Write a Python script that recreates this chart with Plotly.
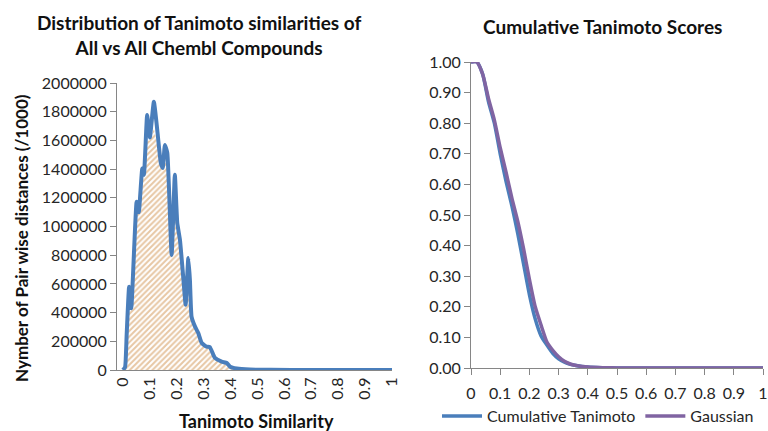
import plotly.graph_objects as go

# ---- Left chart data: distribution of Tanimoto similarities ----
sim_x = [0.000, 0.008, 0.014, 0.023, 0.031, 0.051, 0.059, 0.072, 0.078, 0.090,
         0.100, 0.115, 0.125, 0.141, 0.148, 0.156, 0.165, 0.181, 0.193, 0.202,
         0.212, 0.224, 0.233, 0.243, 0.249, 0.255, 0.268, 0.280, 0.293, 0.311,
         0.323, 0.342, 0.367, 0.386, 0.398, 0.423, 0.472, 0.550, 0.700, 0.850, 1.000]
pair_counts = [0, 20000, 250000, 580000, 430000, 1173000, 1100000, 1405000, 1360000, 1777000,
               1620000, 1870000, 1720000, 1440000, 1407000, 1568000, 1512000, 800000, 1360000, 1024000,
               906000, 650000, 455000, 780000, 627000, 372000, 302000, 258000, 188000, 162000,
               160000, 84000, 58000, 49000, 23000, 10000, 3000, 1000, 0, 0, 0]
area_counts = [0, 0, 200000, 480000, 430000, 1100000, 1100000, 1350000, 1360000, 1600000,
               1600000, 1680000, 1600000, 1420000, 1400000, 1480000, 1450000, 1100000, 1150000, 1000000,
               880000, 650000, 550000, 560000, 500000, 380000, 300000, 255000, 185000, 160000,
               150000, 84000, 58000, 45000, 23000, 10000, 3000, 1000, 0, 0, 0]
left_ticks = [0, 0.1, 0.2, 0.3, 0.4, 0.5, 0.6, 0.7, 0.8, 0.9, 1]
left_tick_text = ["0", "0.1", "0.2", "0.3", "0.4", "0.5", "0.6", "0.7", "0.8", "0.9", "1"]
left_y_ticks = [0, 200000, 400000, 600000, 800000, 1000000, 1200000, 1400000, 1600000, 1800000, 2000000]

# ---- Right chart data: cumulative scores ----
cum_x = [0, 0.02, 0.04, 0.06, 0.08, 0.10, 0.12, 0.14, 0.16, 0.18, 0.20, 0.22, 0.24,
         0.26, 0.28, 0.30, 0.32, 0.34, 0.36, 0.38, 0.40, 0.45, 0.50, 0.60, 0.70, 0.80, 0.90, 1.0]
cum_tanimoto = [1.00, 1.00, 0.96, 0.87, 0.80, 0.70, 0.61, 0.53, 0.44, 0.34, 0.24, 0.16, 0.105,
                0.075, 0.048, 0.030, 0.019, 0.012, 0.008, 0.005, 0.003, 0.001, 0, 0, 0, 0, 0, 0]
gaussian = [1.00, 1.00, 0.96, 0.88, 0.81, 0.72, 0.64, 0.555, 0.48, 0.39, 0.29, 0.20, 0.14,
            0.085, 0.058, 0.037, 0.022, 0.013, 0.008, 0.005, 0.003, 0.001, 0, 0, 0, 0, 0, 0]
right_ticks = [0, 0.1, 0.2, 0.3, 0.4, 0.5, 0.6, 0.7, 0.8, 0.9, 1]
right_tick_text = ["0", "0.1", "0.2", "0.3", "0.4", "0.5", "0.6", "0.7", "0.8", "0.9", "1"]
right_y_ticks = [0, 0.1, 0.2, 0.3, 0.4, 0.5, 0.6, 0.7, 0.8, 0.9, 1.0]

BLUE = "#4a7ebb"
PURPLE = "#8064a2"
AXIS = "#868686"
FONT = "Lato"
W, H = 768, 431

def px_x(p):
    return p / W

def px_y(p):
    return 1 - p / H

fig = go.Figure()

fig.add_trace(go.Scatter(
    x=sim_x, y=area_counts, mode="none", fill="tozeroy",
    fillpattern=dict(shape="/", fgcolor="#cf8f4a", bgcolor="#ffffff", size=4, solidity=0.5),
    showlegend=False, xaxis="x", yaxis="y", hoverinfo="skip"))
fig.add_trace(go.Scatter(
    x=sim_x, y=pair_counts, mode="lines", line=dict(color=BLUE, width=4, shape="spline", smoothing=0.4),
    showlegend=False, xaxis="x", yaxis="y"))

fig.add_trace(go.Scatter(
    x=cum_x, y=cum_tanimoto, mode="lines", name="Cumulative Tanimoto",
    line=dict(color=BLUE, width=3.5, shape="spline", smoothing=0.6), xaxis="x2", yaxis="y2"))
fig.add_trace(go.Scatter(
    x=cum_x, y=gaussian, mode="lines", name="Gaussian",
    line=dict(color=PURPLE, width=3.5, shape="spline", smoothing=0.6), xaxis="x2", yaxis="y2"))

tickfont = dict(family=FONT, size=16, color="#262626")
axis_common = dict(showline=True, linecolor=AXIS, linewidth=1, showgrid=False, zeroline=False,
                   ticks="outside", tickcolor=AXIS, ticklen=6, tickfont=tickfont, automargin=False)

fig.update_layout(
    width=W, height=H, margin=dict(l=0, r=0, t=0, b=0, autoexpand=False),
    paper_bgcolor="white", plot_bgcolor="white",
    font=dict(family=FONT, color="#262626"),
    xaxis=dict(domain=[px_x(117), px_x(392)], range=[-0.022, 1.0], tickvals=left_ticks,
               ticktext=left_tick_text, tickangle=-90, anchor="y",
               **{**axis_common, "ticks": ""}),
    yaxis=dict(domain=[px_y(370), px_y(83)], range=[0, 2000000], tickvals=left_y_ticks,
               tickformat="d", anchor="x", **axis_common),
    xaxis2=dict(domain=[px_x(471), px_x(763)], range=[0, 1.0], tickvals=right_ticks,
                ticktext=right_tick_text, anchor="y2", ticklabelstandoff=5, **axis_common),
    yaxis2=dict(domain=[px_y(368), px_y(62)], range=[0, 1.0], tickvals=right_y_ticks,
                tickformat=".2f", anchor="x2", **axis_common),
    legend=dict(orientation="h", x=px_x(598), xanchor="center", y=px_y(416), yanchor="middle",
                font=dict(family=FONT, size=16, color="#262626"), itemwidth=40,
                bgcolor="rgba(0,0,0,0)"),
    annotations=[
        dict(text="<b>Distribution of Tanimoto similarities of<br>All vs All Chembl Compounds</b>",
             x=px_x(199), y=px_y(35), xref="paper", yref="paper", showarrow=False,
             xanchor="center", yanchor="middle",
             font=dict(family=FONT, size=19, color="#111111"), align="center"),
        dict(text="<b>Cumulative Tanimoto Scores</b>",
             x=px_x(602), y=px_y(26), xref="paper", yref="paper", showarrow=False,
             xanchor="center", yanchor="middle",
             font=dict(family=FONT, size=19, color="#111111")),
        dict(text="<b>Nymber of Pair wise distances (/1000)</b>",
             x=px_x(22), y=px_y(238), xref="paper", yref="paper", showarrow=False, textangle=-90,
             xanchor="center", yanchor="middle",
             font=dict(family=FONT, size=17, color="#111111")),
        dict(text="<b>Tanimoto Similarity</b>",
             x=px_x(256), y=px_y(421), xref="paper", yref="paper", showarrow=False,
             xanchor="center", yanchor="middle",
             font=dict(family=FONT, size=18, color="#111111")),
    ],
)

fig.write_html("out.html", config={"displayModeBar": False},
               post_script="document.body.style.margin='0px';")
